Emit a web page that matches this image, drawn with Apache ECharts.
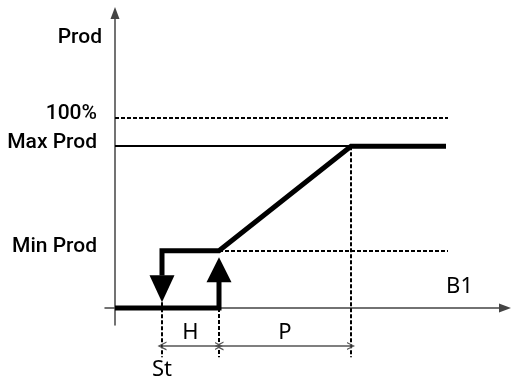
<!DOCTYPE html>
<html>
<head>
<meta charset="utf-8">
<script src="https://cdn.jsdelivr.net/npm/echarts@6/dist/echarts.min.js"></script>
<style>
  html, body { margin: 0; padding: 0; background: #fff; }
  #chart { width: 513px; height: 383px; }
</style>
</head>
<body>
<div id="chart"></div>
<script>
// levels on the production axis (100% = top of the scale)
const levelNames = ['Min Prod', 'Max Prod', '100%']
const levelValues = [30, 85, 100]

// points on the B1 axis: St, St+H, St+H+P, end of the curve
const stepX = [47, 104, 236]
const endX = 331
const guideEndX = 333

// the two bands under the axis
const bandNames = ['H', 'P']
const dimY = -20
const dropY = -26

// arrow heads on the step (centre values) and where the thick lines stop
const arrowUp = [104, 20]
const arrowDown = [47, 10]
const upStop = 14
const downStop = 17

const font = 'Roboto, Liberation Sans, sans-serif'
const fontBottom = 'Noto Sans, DejaVu Sans, sans-serif'

const minProd = levelValues[0]
const maxProd = levelValues[1]
const fullProd = levelValues[2]

const lowerPath = [[0, 0], [stepX[1], 0], [stepX[1], upStop]]
const upperPath = [
  [stepX[0], downStop],
  [stepX[0], minProd],
  [stepX[1], minProd],
  [stepX[2], maxProd],
  [endX, maxProd]
]

const chart = echarts.init(document.getElementById('chart'))

const thick = { color: '#000', width: 5, cap: 'butt', join: 'miter', opacity: 1 }
const dashed = { color: '#000', width: 2, type: [4, 2], opacity: 1 }
const chevron = 'path://M0,10L5,0L10,10L8.4,10L5,3.2L1.6,10Z'

const leftText = { fontFamily: font, fontSize: 21, fontWeight: 500, color: '#000' }
const bottomText = { fontFamily: fontBottom, fontSize: 22, color: '#000' }

chart.setOption({
  animation: false,
  grid: { left: 105, right: 8, top: 13, bottom: 58 },
  xAxis: {
    type: 'value',
    min: -10,
    max: 390,
    splitLine: { show: false },
    axisTick: { show: false },
    axisLabel: { show: false },
    axisLine: {
      onZero: true,
      symbol: ['none', 'triangle'],
      symbolSize: [9, 12],
      lineStyle: { color: '#444', width: 1.5 }
    },
    name: 'B1',
    nameLocation: 'end',
    nameGap: -32,
    nameTextStyle: Object.assign({
      align: 'right', verticalAlign: 'bottom', padding: [0, 0, 10, 0]
    }, bottomText)
  },
  yAxis: {
    type: 'value',
    min: -9,
    max: 155,
    splitLine: { show: false },
    axisTick: { show: false },
    axisLabel: { show: false },
    axisLine: {
      onZero: true,
      symbol: ['none', 'triangle'],
      symbolSize: [9, 12],
      lineStyle: { color: '#444', width: 1.5 }
    },
    name: 'Prod',
    nameLocation: 'end',
    nameGap: -25,
    nameTextStyle: Object.assign({
      align: 'right', verticalAlign: 'middle', padding: [0, 13, 0, 0]
    }, leftText)
  },
  series: [
    // thin guides
    {
      type: 'lines',
      coordinateSystem: 'cartesian2d',
      clip: false,
      silent: true,
      lineStyle: dashed,
      data: [
        { coords: [[0, fullProd], [guideEndX, fullProd]] },
        { coords: [[stepX[1], minProd], [guideEndX, minProd]] },
        { coords: [[stepX[0], arrowDown[1] - 7], [stepX[0], dropY]] },
        { coords: [[stepX[1], 0], [stepX[1], dropY]] },
        { coords: [[stepX[2], maxProd], [stepX[2], dropY]] }
      ]
    },
    {
      type: 'lines',
      coordinateSystem: 'cartesian2d',
      clip: false,
      silent: true,
      lineStyle: { color: '#000', width: 2, type: 'solid', opacity: 1 },
      data: [{ coords: [[0, maxProd], [stepX[2], maxProd]] }]
    },
    // dimension lines H and P
    {
      type: 'lines',
      coordinateSystem: 'cartesian2d',
      clip: false,
      silent: true,
      symbol: [chevron, chevron],
      symbolSize: [9, 8],
      lineStyle: { color: '#555', width: 1.5, type: 'solid', opacity: 1 },
      label: Object.assign({
        show: true,
        position: 'middle',
        distance: 2,
        formatter: p => p.name
      }, bottomText),
      data: [
        { name: bandNames[0], coords: [[stepX[0], dimY], [stepX[1], dimY]] },
        { name: bandNames[1], coords: [[stepX[1], dimY], [stepX[2], dimY]] }
      ]
    },
    // thick step / ramp
    {
      type: 'line',
      clip: false,
      silent: true,
      showSymbol: false,
      lineStyle: thick,
      data: lowerPath
    },
    {
      type: 'line',
      clip: false,
      silent: true,
      showSymbol: false,
      lineStyle: thick,
      data: upperPath
    },
    // arrow heads
    {
      type: 'scatter',
      clip: false,
      silent: true,
      symbol: 'triangle',
      itemStyle: { color: '#000', opacity: 1 },
      data: [
        { value: arrowUp, symbolSize: [25, 25], symbolRotate: 0 },
        { value: arrowDown, symbolSize: [25, 27], symbolRotate: 180 }
      ]
    },
    // level labels left of the axis, St under the axis
    {
      type: 'scatter',
      clip: false,
      silent: true,
      symbolSize: 0,
      itemStyle: { opacity: 1 },
      label: Object.assign({
        show: true,
        position: 'left',
        distance: 2,
        formatter: p => p.name
      }, leftText),
      data: levelNames.map((n, i) => ({ name: n, value: [-16, levelValues[i] + 2] }))
    },
    {
      type: 'scatter',
      clip: false,
      silent: true,
      symbolSize: 0,
      itemStyle: { opacity: 1 },
      label: Object.assign({
        show: true,
        position: 'top',
        distance: -10,
        formatter: p => p.name
      }, bottomText),
      data: [{ name: 'St', value: [stepX[0], -33] }]
    }
  ]
})
</script>
</body>
</html>
